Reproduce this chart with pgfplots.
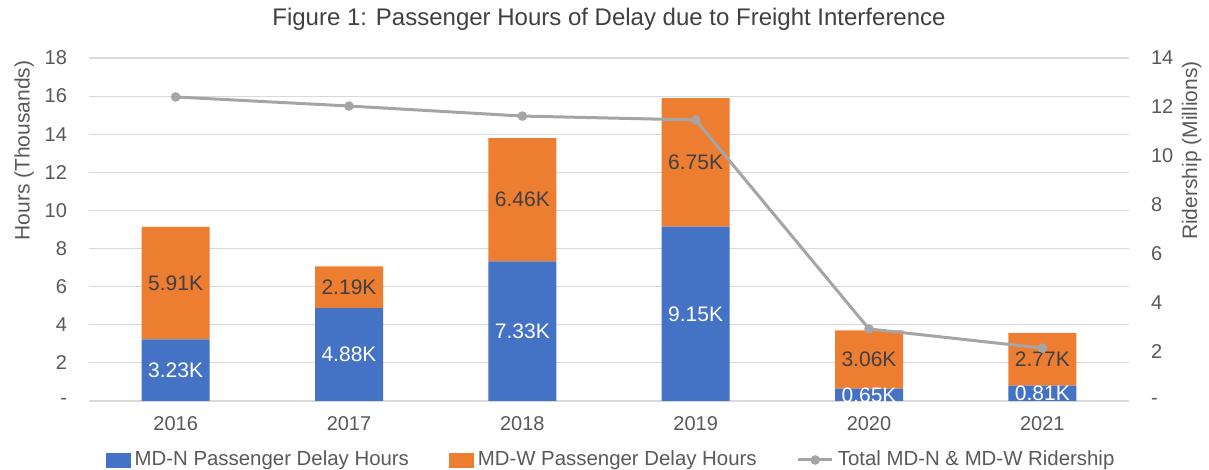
\documentclass[border=0pt]{standalone}
\usepackage{fontspec}
\setmainfont{Liberation Sans}
\usepackage{pgfplots}
\pgfplotsset{compat=1.18}
\definecolor{mdblue}{HTML}{4472C4}
\definecolor{mdorange}{HTML}{ED7D31}
\definecolor{ridegray}{HTML}{A5A5A5}
\definecolor{gridgray}{HTML}{D9D9D9}
\definecolor{txtgray}{HTML}{595959}
\definecolor{lbldark}{HTML}{404040}

\pgfplotsset{
  base/.style={
    scale only axis,
    width=520pt, height=171.5pt,
    at={(0,0)}, anchor=south west,
    xmin=-0.5, xmax=5.5,
    axis line style={draw=none},
    tick style={draw=none},
    tick label style={font=\fontsize{10}{12}\selectfont, text=txtgray},
  },
}

\begin{document}
\begin{tikzpicture}
\useasboundingbox (-44.5pt,-34.5pt) rectangle (560pt,200.5pt);

% bars, left axis
\begin{axis}[base,
  ybar stacked, bar width=34pt,
  ymin=0, ymax=18,
  ytick={0,2,...,18},
  yticklabels={-,2,4,6,8,10,12,14,16,18},
  yticklabel style={xshift=-7.5pt},
  xtick={0,1,2,3,4,5},
  xticklabels={2016,2017,2018,2019,2020,2021},
  xticklabel style={yshift=-4pt},
  ymajorgrids, grid style={gridgray, line width=0.6pt},
  ylabel={Hours (Thousands)},
  ylabel style={at={(axis description cs:-0.046,0.73)}, anchor=south,
    font=\fontsize{10.5}{12}\selectfont, text=txtgray},
  title={Figure 1: Passenger Hours of Delay due to Freight Interference},
  title style={font=\fontsize{12}{14}\selectfont, text=lbldark, yshift=4pt},
]
\addplot[fill=mdblue, draw=none] coordinates {
  (0,3.23) (1,4.88) (2,7.33) (3,9.15) (4,0.65) (5,0.81)
};
\addplot[fill=mdorange, draw=none] coordinates {
  (0,5.91) (1,2.19) (2,6.46) (3,6.75) (4,3.06) (5,2.77)
};
\end{axis}

% data labels, same scale, not stacked
\begin{axis}[base, hide axis, ymin=0, ymax=18, clip=false]
\addplot[only marks, mark=none, draw=none,
  nodes near coords, point meta=explicit symbolic,
  every node near coord/.style={anchor=center, text=white,
    font=\fontsize{10.5}{12}\selectfont}]
  coordinates {
  (0,1.615)[3.23K] (1,2.44)[4.88K] (2,3.665)[7.33K] (3,4.575)[9.15K]
  (4,0.325)[0.65K] (5,0.405)[0.81K]
};
\addplot[only marks, mark=none, draw=none,
  nodes near coords, point meta=explicit symbolic,
  every node near coord/.style={anchor=center, text=lbldark,
    font=\fontsize{10.5}{12}\selectfont}]
  coordinates {
  (0,6.185)[5.91K] (1,5.975)[2.19K] (2,10.56)[6.46K] (3,12.525)[6.75K]
  (4,2.18)[3.06K] (5,2.195)[2.77K]
};
\end{axis}

% ridership, right axis
\begin{axis}[base,
  ymin=0, ymax=14,
  axis x line=none,
  axis y line*=right,
  ytick={0,2,...,14},
  yticklabels={-,2,4,6,8,10,12,14},
  yticklabel style={xshift=7.5pt},
  ylabel={Ridership (Millions)},
  ylabel style={at={(axis description cs:1.044,0.73)}, anchor=north,
    font=\fontsize{10.5}{12}\selectfont, text=txtgray},
  legend style={
    at={(0.503,-0.172)}, anchor=center,
    draw=none, fill=none,
    legend columns=3,
    font=\fontsize{10.2}{12}\selectfont, text=txtgray,
    /tikz/every even column/.append style={column sep=18pt},
  },
  legend cell align=left,
]
\addlegendimage{legend image code/.code={\fill[mdblue] (0pt,-3.5pt) rectangle (12pt,3.5pt);}}
\addlegendentry{MD-N Passenger Delay Hours}
\addlegendimage{legend image code/.code={\fill[mdorange] (0pt,-3.5pt) rectangle (12pt,3.5pt);}}
\addlegendentry{MD-W Passenger Delay Hours}
\addplot[ridegray, line width=1.5pt, mark=*, mark size=1.6pt,
  mark options={fill=ridegray, draw=ridegray}] coordinates {
  (0,12.41) (1,12.04) (2,11.63) (3,11.47) (4,2.94) (5,2.16)
};
\addlegendentry{Total MD-N \& MD-W Ridership}
\end{axis}
\end{tikzpicture}
\end{document}
